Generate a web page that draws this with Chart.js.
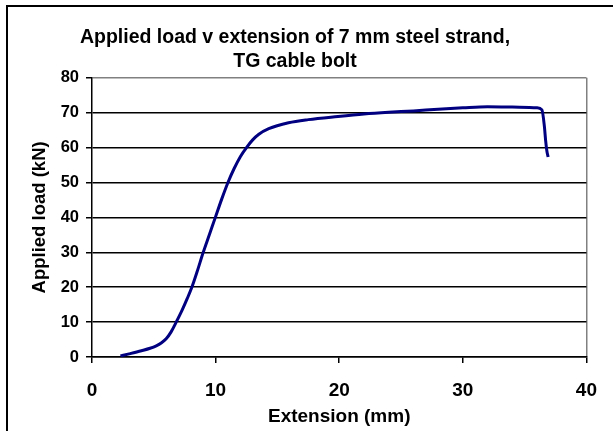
<!DOCTYPE html>
<html>
<head>
<meta charset="utf-8">
<script src="https://cdn.jsdelivr.net/npm/chart.js@4"></script>
<style>
  html, body { margin: 0; padding: 0; background: #fff; }
  #wrap { width: 613px; height: 431px; position: relative; }
</style>
</head>
<body>
<div id="wrap"><canvas id="loadChart" width="613" height="431"></canvas></div>
<script>
// extension (mm) and applied load (kN)
const extension = [2.3, 3, 4, 4.7, 5.2, 5.6, 6.0, 6.4, 6.8, 7.3, 7.7, 8.1, 8.5, 9.0, 9.5, 9.98, 10.5, 11.0, 11.5, 12.0,
                   12.5, 13.0, 13.5, 14.3, 15.9, 17.5, 19.9, 22, 24, 26, 28, 30, 32, 34, 36, 36.4, 36.6, 36.7, 36.8, 36.9];
const load = [0.3, 0.9, 1.8, 2.5, 3.2, 4.0, 5.2, 7.2, 9.9, 13.5, 16.7, 20.2, 24.4, 30, 35.1, 40, 45.3, 50, 54, 57.4,
              60, 62.2, 63.8, 65.4, 67.1, 68, 68.9, 69.6, 70.1, 70.5, 71, 71.4, 71.7, 71.6, 71.4, 70.8, 66, 62, 59, 57.3];
const xTicks = [0, 10, 20, 30, 40];
const yTicks = [0, 10, 20, 30, 40, 50, 60, 70, 80];

const colors = {
    line: '#000080',
    grid: '#000000',
    soft: '#808080'
};

const points = extension.map((x, i) => ({ x: x, y: load[i] }));

// outer frame of the picture (left and top edges only are visible)
const framePlugin = {
    id: 'frame',
    beforeDraw(chart) {
        const c = chart.ctx;
        c.save();
        c.strokeStyle = '#000';
        c.lineWidth = 2;
        c.beginPath();
        c.moveTo(7, 431);
        c.lineTo(7, 6);
        c.lineTo(613, 6);
        c.stroke();
        c.restore();
    }
};

const ctx = document.getElementById('loadChart');
new Chart(ctx, {
    type: 'scatter',
    data: {
        datasets: [{
            data: points,
            showLine: true,
            borderColor: colors.line,
            borderWidth: 3,
            pointRadius: 0,
            cubicInterpolationMode: 'monotone',
            fill: false
        }]
    },
    options: {
        responsive: false,
        animation: false,
        layout: { padding: { left: 0, right: 23, top: 0, bottom: 0 } },
        plugins: {
            legend: { display: false },
            tooltip: { enabled: false },
            title: {
                display: true,
                text: ['Applied load v extension of 7 mm steel strand,', 'TG cable bolt'],
                color: '#000',
                font: { family: 'Liberation Sans', size: 19.5, weight: 'bold', lineHeight: 1.25 },
                padding: { top: 25, bottom: 4 }
            }
        },
        scales: {
            x: {
                type: 'linear',
                min: 0,
                max: 40,
                afterBuildTicks: s => { s.ticks = xTicks.map(v => ({ value: v })); },
                afterFit: s => { s.height = 74; },
                ticks: {
                    color: '#000',
                    padding: 16,
                    font: { family: 'Liberation Sans', size: 19, weight: 'bold' }
                },
                grid: {
                    color: c => (c.tick && c.tick.value === 40) ? colors.soft : 'rgba(0,0,0,0)',
                    tickColor: colors.grid,
                    tickLength: 6,
                    lineWidth: 1.5
                },
                border: { color: colors.grid, width: 1.5 },
                title: {
                    display: true,
                    text: 'Extension (mm)',
                    color: '#000',
                    font: { family: 'Liberation Sans', size: 19, weight: 'bold' },
                    padding: { top: 0, bottom: 3 }
                }
            },
            y: {
                min: 0,
                max: 80,
                afterBuildTicks: s => { s.ticks = yTicks.map(v => ({ value: v })); },
                afterFit: s => { s.width = 92; },
                ticks: {
                    color: '#000',
                    padding: 7,
                    font: { family: 'Liberation Sans', size: 16.5, weight: 'bold' }
                },
                grid: {
                    color: c => (c.tick && c.tick.value === 80) ? colors.soft : colors.grid,
                    tickColor: colors.grid,
                    tickLength: 6,
                    lineWidth: 1.5
                },
                border: { color: colors.grid, width: 1.5 },
                title: {
                    display: true,
                    text: 'Applied load (kN)',
                    color: '#000',
                    font: { family: 'Liberation Sans', size: 18.5, weight: 'bold' },
                    padding: { top: 29, bottom: 0 }
                }
            }
        }
    },
    plugins: [framePlugin]
});
</script>
</body>
</html>
